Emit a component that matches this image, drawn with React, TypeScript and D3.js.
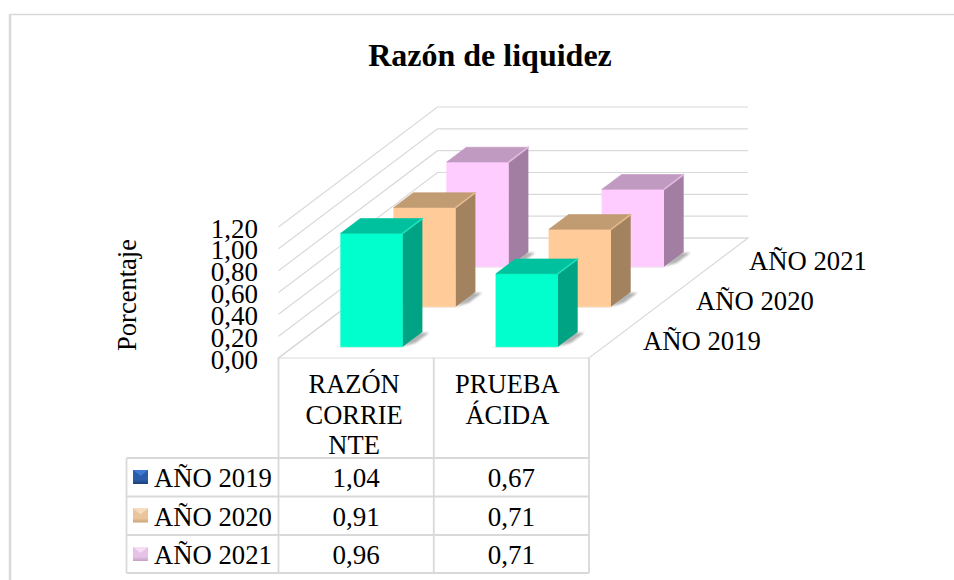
import React from "react";
import * as d3 from "d3";

const categories = ["RAZÓN CORRIENTE", "PRUEBA ÁCIDA"];
const categoryLines = [["RAZÓN", "CORRIE", "NTE"], ["PRUEBA", "ÁCIDA"]];
const seriesNames = ["AÑO 2019", "AÑO 2020", "AÑO 2021"];
const values2019 = [1.04, 0.67];
const values2020 = [0.91, 0.71];
const values2021 = [0.96, 0.71];
const tableValues = [["1,04", "0,67"], ["0,91", "0,71"], ["0,96", "0,71"]];
const yTicks = [0, 0.2, 0.4, 0.6, 0.8, 1.0, 1.2];
const seriesValues = [values2019, values2020, values2021];

const faceColors = ["#00ffcc", "#ffcc99", "#ffccff"];
const sideColors = ["#00a383", "#a3825f", "#a27fa2"];
const topColors = ["#00c19d", "#c19b72", "#c19ac1"];
const edgeColors = ["#1fe0bb", "#e0b88c", "#e0b8e0"];
const swatchTop = ["#3f78cf", "#f6dcbc", "#f6dff6"];
const swatchFill = ["#2a5caa", "#eac49a", "#e6c3e6"];
const swatchBottom = ["#1d3f78", "#c9a27a", "#c4a0c4"];

const FONT = "'Liberation Serif', 'Times New Roman', serif";
const GRID = "#d9d9d9";

const xScale = d3.scaleLinear().domain([0, 2]).range([278.5, 589]);
const yScale = d3.scaleLinear().domain([0, 1.2]).range([0, 131]);
const zScaleX = d3.scaleLinear().domain([0, 3]).range([0, 159]);
const zScaleY = d3.scaleLinear().domain([0, 3]).range([358, 238]);

// oblique projection: category position, value, depth
const px = (c: number, z: number) => xScale(c) + zScaleX(z);
const py = (v: number, z: number) => zScaleY(z) - yScale(v);
const pts = (a: [number, number, number][]) =>
  a.map(([c, v, z]) => `${px(c, z).toFixed(1)},${py(v, z).toFixed(1)}`).join(" ");

const BAR_X0 = 0.305;
const BAR_X1 = 0.705;
const BAR_Z0 = 0.28;
const BAR_Z1 = 0.65;

const rowYs = d3.scaleLinear().domain([0, 1, 2, 3]).range([458, 496.5, 535, 573]);
const tableLeft = 126.5;

export default function App() {
  const drawOrder = [2, 1, 0];
  return (
    <svg width={954} height={580} style={{ position: "absolute", left: 0, top: 0, background: "#fff" }} fontFamily={FONT}>
      <defs>
        {faceColors.map((_, i) => (
          <linearGradient key={i} id={`sw${i}`} x1="0" y1="0" x2="0" y2="1">
            <stop offset="0" stopColor={swatchFill[i]} />
            <stop offset="0.7" stopColor={swatchFill[i]} />
            <stop offset="1" stopColor={swatchBottom[i]} />
          </linearGradient>
        ))}
        <filter id="blur" x="-30%" y="-30%" width="160%" height="160%">
          <feGaussianBlur stdDeviation="1" />
        </filter>
      </defs>
      {/* chart frame */}
      <line x1={10} x2={954} y1={14.5} y2={14.5} stroke={GRID} strokeWidth={1.5} />
      <line x1={10} x2={10} y1={14} y2={580} stroke={GRID} strokeWidth={2.5} />

      <text x={490} y={66} textAnchor="middle" fontSize={32} fontWeight="bold" fill="#000">Razón de liquidez</text>

      {/* gridlines: side wall and back wall */}
      {yTicks.map((t) => (
        <polyline key={t} points={pts([[0, t, 0], [0, t, 3], [2, t, 3]])} stroke={GRID} strokeWidth={1.2} fill="none" />
      ))}
      {/* floor */}
      <polygon points={pts([[0, 0, 0], [2, 0, 0], [2, 0, 3], [0, 0, 3]])} fill="none" stroke={GRID} strokeWidth={1.2} />

      {/* bars, back to front */}
      {drawOrder.map((s) =>
        categories.map((_, c) => {
          const v = seriesValues[s][c];
          const x0 = c + BAR_X0, x1 = c + BAR_X1;
          const z0 = s + BAR_Z0, z1 = s + BAR_Z1;
          return (
            <g key={`${s}-${c}`}>
              <polygon
                points={pts([[x1, 0, z0], [x1 + 0.05, 0, z0 + 0.1], [x1 + 0.05, 0, z1 - 0.02], [x1 - 0.02, 0, z1 - 0.02]])}
                fill="#000" opacity={0.3} filter="url(#blur)"
              />
              <polygon
                points={pts([[x0 - 0.03, 0, z0 - 0.02], [x1, 0, z0 - 0.02], [x1, 0, z0], [x0, 0, z0]])}
                fill="#000" opacity={0.25} filter="url(#blur)"
              />
              <polygon points={pts([[x0, 0, z0], [x1, 0, z0], [x1, v, z0], [x0, v, z0]])} fill={faceColors[s]} stroke={faceColors[s]} strokeWidth={0.6} strokeLinejoin="round" />
              <polygon points={pts([[x1, 0, z0], [x1, 0, z1], [x1, v, z1], [x1, v, z0]])} fill={sideColors[s]} />
              <polygon points={pts([[x0, v, z0], [x1, v, z0], [x1, v, z1], [x0, v, z1]])} fill={topColors[s]} stroke={topColors[s]} strokeWidth={0.6} strokeLinejoin="round" />
              <polyline points={pts([[x1, v, z0], [x1, v, z1]])} stroke={edgeColors[s]} strokeWidth={1.6} fill="none" strokeLinecap="round" />
            </g>
          );
        })
      )}

      {/* value axis labels */}
      <text transform="translate(136,295) rotate(-90)" textAnchor="middle" fontSize={26.5} fill="#000">Porcentaje</text>
      {yTicks.map((t) => (
        <text key={t} x={258} y={py(t, 0) + 10.5} textAnchor="end" fontSize={27} fill="#000">
          {t.toFixed(2).replace(".", ",")}
        </text>
      ))}

      {/* depth axis labels */}
      {seriesNames.map((n, s) => (
        <text key={n} x={px(2, s) + 54} y={py(0, s) - 8} fontSize={26.7} fill="#000">{n}</text>
      ))}

      {/* data table */}
      <g stroke={GRID} strokeWidth={1.8} fill="none">
        {[0, 1, 2].map((c) => (
          <line key={c} x1={xScale(c)} x2={xScale(c)} y1={358} y2={573} />
        ))}
        {[0, 1, 2, 3].map((r) => (
          <line key={r} x1={tableLeft} x2={xScale(2)} y1={rowYs(r)} y2={rowYs(r)} />
        ))}
        <line x1={tableLeft} x2={tableLeft} y1={458} y2={573} />
      </g>
      {categoryLines.map((lines, c) =>
        lines.map((l, i) => (
          <text key={l} x={xScale(c + 0.5) - (c === 0 ? 2 : 4)} y={393 + i * 30.5} textAnchor="middle" fontSize={26.5} fill="#000">{l}</text>
        ))
      )}
      {seriesNames.map((n, s) => {
        const top = rowYs(s) + 12;
        return (
          <g key={n}>
            <rect x={133} y={top} width={15} height={14} fill={`url(#sw${s})`} />
            <polygon points={`${133},${top} ${148},${top} ${140.5},${top + 6}`} fill={swatchTop[s]} />
            <text x={154} y={rowYs(s) + 29} fontSize={26.7} fill="#000">{n}</text>
            {tableValues[s].map((v, c) => (
              <text key={c} x={xScale(c + 0.5)} y={rowYs(s) + 29} textAnchor="middle" fontSize={27} fill="#000">{v}</text>
            ))}
          </g>
        );
      })}
    </svg>
  );
}
